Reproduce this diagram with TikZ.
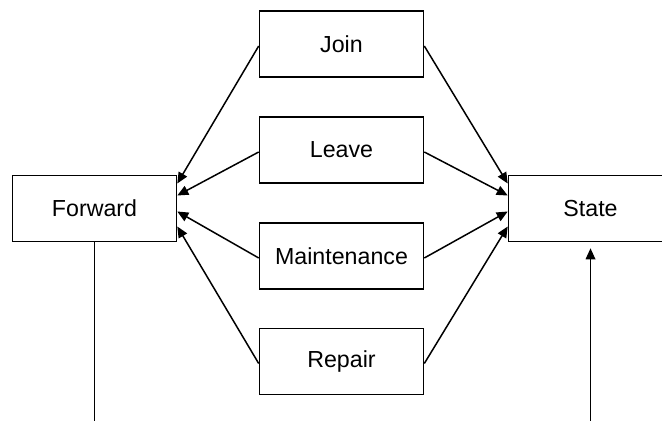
\documentclass[tikz,border=0pt]{standalone}
\usepackage{fontspec}
\setmainfont{Liberation Sans}
\usetikzlibrary{arrows.meta}

\tikzset{
    procbox/.style={draw, line width=0.8pt, minimum width=82pt, minimum height=33pt, inner sep=0pt, font=\fontsize{11.6}{14}\selectfont},
    flow/.style={line width=0.75pt, -{Triangle[length=5.5pt, width=4.8pt]}}
}

\begin{document}
\begin{tikzpicture}[x=0.5pt, y=-0.5pt]
            \useasboundingbox (0, 0) rectangle (662, 421);

            \clip (0, 0) rectangle (662, 421);

            \node[procbox] (forward) at (94.5, 208.5) {Forward};

            \node[procbox] (state) at (590.5, 208.5) {State};

            \node[procbox] (join) at (341.5, 44) {Join};

            \node[procbox] (leave) at (341.5, 150) {Leave};

            \node[procbox] (maint) at (341.5, 256) {Maintenance};

            \node[procbox] (repair) at (341.5, 361.5) {Repair};

            \draw[flow] ([yshift=-1pt]join.west) -- ([yshift=12.5pt]forward.east);

            \draw[flow] ([yshift=-1pt]leave.west) -- ([yshift=6.5pt]forward.east);

            \draw[flow] ([yshift=-1pt]maint.west) -- ([yshift=-1.5pt]forward.east);

            \draw[flow] ([yshift=-1pt]repair.west) -- ([yshift=-9pt]forward.east);

            \draw[flow] ([yshift=-1pt]join.east) -- ([yshift=12.5pt]state.west);

            \draw[flow] ([yshift=-1pt]leave.east) -- ([yshift=6.5pt]state.west);

            \draw[flow] ([yshift=-1pt]maint.east) -- ([yshift=-1.5pt]state.west);

            \draw[flow] ([yshift=-1pt]repair.east) -- ([yshift=-9pt]state.west);

            \coordinate (forward out) at (94.5, 425);

            \coordinate (state in) at (590.5, 425);

            \draw[line width=0.75pt] (forward.south) -- (forward out);

            \draw[flow, shorten >=3pt] (state in) -- (state.south);
        \end{tikzpicture}
\end{document}
